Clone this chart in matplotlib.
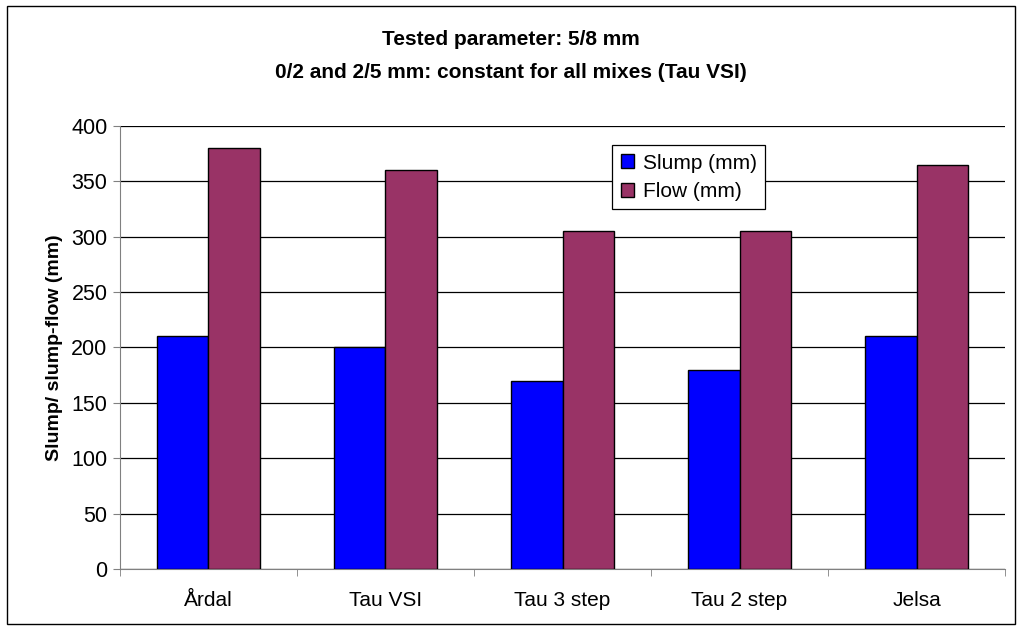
import numpy as np
import matplotlib.pyplot as plt
from matplotlib.patches import Rectangle

plt.rcParams['font.family'] = ['Liberation Sans', 'DejaVu Sans']

categories = ["Årdal", "Tau VSI", "Tau 3 step", "Tau 2 step", "Jelsa"]
slump = [210, 200, 170, 180, 210]
flow = [380, 360, 305, 305, 365]

fig = plt.figure(figsize=(10.22, 6.34), dpi=100)
ax = fig.add_axes([0.1174, 0.1025, 0.866, 0.6988])

x = np.arange(len(categories))
w = 0.29
ax.bar(x - w/2, slump, w, color="#0000FF", edgecolor="black", linewidth=1, label="Slump (mm)", zorder=3)
ax.bar(x + w/2, flow, w, color="#993366", edgecolor="black", linewidth=1, label="Flow (mm)", zorder=3)

ax.set_xlim(-0.5, len(categories) - 0.5)
ax.set_ylim(0, 400)
ax.set_yticks(np.arange(0, 401, 50))
ax.yaxis.grid(True, color="black", linewidth=0.9, zorder=0)
ax.set_axisbelow(True)

ax.set_xticks(x)
ax.set_xticklabels(categories, fontsize=15)
ax.set_xticks(np.arange(-0.5, len(categories)), minor=True)
ax.tick_params(axis="x", which="major", length=0, pad=16)
ax.tick_params(axis="x", which="minor", length=5, direction="out", color="gray")
ax.tick_params(axis="y", length=5, direction="out", color="gray", labelsize=15.5, pad=4)

for s in ["top", "right"]:
    ax.spines[s].set_visible(False)
ax.spines["left"].set_color("gray")
ax.spines["bottom"].set_color("gray")

ax.set_ylabel("Slump/ slump-flow (mm)", fontsize=14, fontweight="bold", labelpad=6)

fig.text(0.5, 0.937, "Tested parameter: 5/8 mm", ha="center", va="center", fontsize=15, fontweight="bold")
fig.text(0.5, 0.886, "0/2 and 2/5 mm: constant for all mixes (Tau VSI)", ha="center", va="center", fontsize=15, fontweight="bold")

leg = ax.legend(loc="upper left", bbox_to_anchor=(0.5446, 0.98), fontsize=15, frameon=True, fancybox=False,
                edgecolor="black", framealpha=1, handlelength=0.65, handleheight=0.65, handletextpad=0.4,
                borderpad=0.4, labelspacing=0.45)
leg.get_frame().set_linewidth(0.9)

fig.patches.append(Rectangle((0.007, 0.016), 0.986, 0.975, transform=fig.transFigure,
                             fill=False, edgecolor="black", linewidth=1))

fig.savefig("out.png", dpi=100)
